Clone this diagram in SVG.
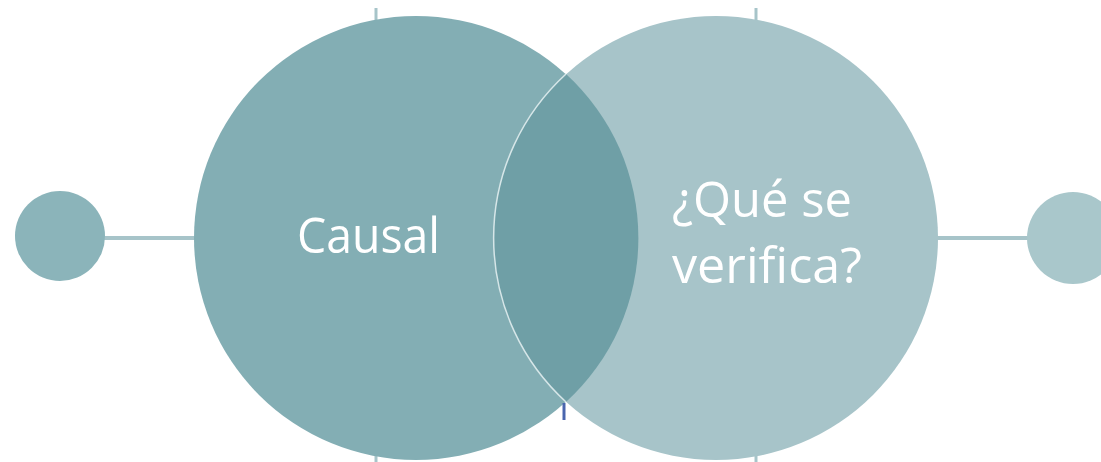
<svg xmlns="http://www.w3.org/2000/svg" width="1101" height="462" viewBox="0 0 1101 462">
<style>
.tick{stroke:#A7C4C9;stroke-width:3}
.lbl{font-family:"Open Sans","Liberation Sans",sans-serif;font-size:50px;fill:#FFFFFF}
</style>
<rect width="1101" height="462" fill="#FFFFFF"/>
<g id="ticks">
<line class="tick" x1="376" y1="8" x2="376" y2="20"/>
<line class="tick" x1="756" y1="8" x2="756" y2="20"/>
<line class="tick" x1="376" y1="450" x2="376" y2="462"/>
<line class="tick" x1="756" y1="450" x2="756" y2="462"/>
</g>
<g id="connectors">
<line x1="100" y1="238" x2="200" y2="238" stroke="#A7C4C9" stroke-width="4"/>
<line x1="930" y1="238" x2="1035" y2="238" stroke="#A7C4C9" stroke-width="4"/>
</g>
<g id="node-left-small"><circle cx="60" cy="236" r="45" fill="#8BB4BA"/></g>
<g id="node-right-small"><circle cx="1073" cy="238" r="46" fill="#A9C7CB"/></g>
<g id="node-causal">
<circle cx="416" cy="238" r="222" fill="#83AEB4"/>
</g>
<g id="node-verifica">
<circle cx="716" cy="238" r="222" fill="#A7C4C9"/>
<path d="M566 74 A222 222 0 0 1 566 402 A222 222 0 0 1 566 74 Z" fill="#6F9FA6"/>
<path d="M566 74 A222 222 0 0 0 566 402" fill="none" stroke="#D6E6E8" stroke-width="1.5"/>
</g>
<line x1="564" y1="403" x2="564" y2="420" stroke="#4A66AE" stroke-width="3"/>
<text class="lbl" x="297" y="253" textLength="143" lengthAdjust="spacingAndGlyphs">Causal</text>
<text class="lbl" x="672" y="217" textLength="180" lengthAdjust="spacingAndGlyphs">¿Qué se</text>
<text class="lbl" x="672" y="283" textLength="190" lengthAdjust="spacingAndGlyphs">verifica?</text>
</svg>
